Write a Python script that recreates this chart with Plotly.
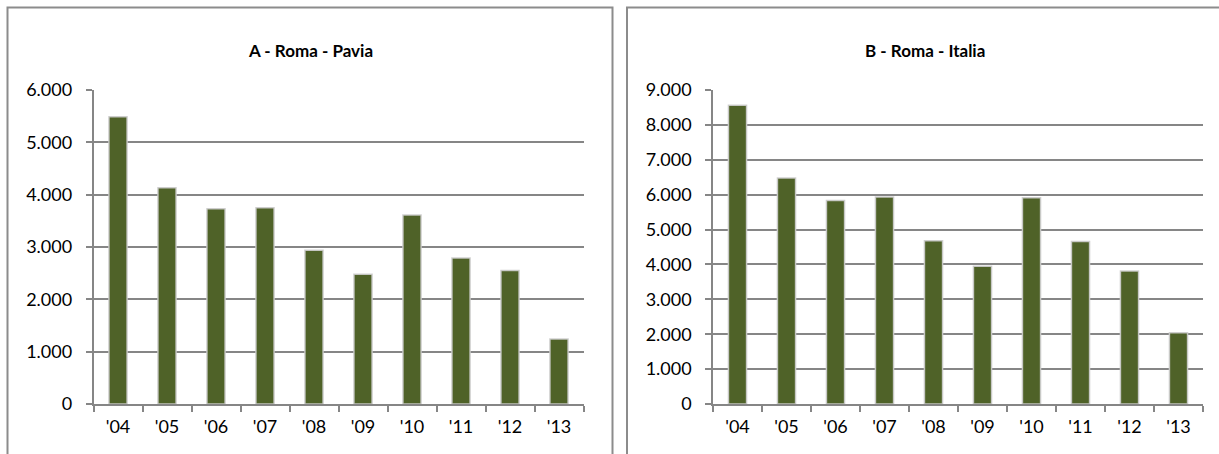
import plotly.graph_objects as go

W, H = 1219, 454

years = ["'04", "'05", "'06", "'07", "'08", "'09", "'10", "'11", "'12", "'13"]
roma_pavia = [5490, 4130, 3730, 3750, 2940, 2480, 3610, 2790, 2550, 1240]
roma_italia = [8560, 6480, 5830, 5930, 4680, 3950, 5910, 4660, 3810, 2040]

title_a = "A - Roma - Pavia"
title_b = "B - Roma - Italia"

BAR = "#4F6228"
GRID = "#868686"
FONT = "Lato"

def px(x):
    return x / W

def py(y):
    return (H - y) / H

fig = go.Figure()
fig.add_trace(go.Bar(x=years, y=roma_pavia, xaxis="x", yaxis="y", width=0.37,
                     marker=dict(color=BAR, line=dict(color="rgba(205,205,205,0.9)", width=1.5)),
                     showlegend=False))
fig.add_trace(go.Bar(x=years, y=roma_italia, xaxis="x2", yaxis="y2", width=0.37,
                     marker=dict(color=BAR, line=dict(color="rgba(205,205,205,0.9)", width=1.5)),
                     showlegend=False))

xcommon = dict(type="category", showgrid=False, showline=True, linecolor=GRID, linewidth=1.5,
               ticks="outside", tickson="boundaries", ticklen=6, tickcolor=GRID, tickwidth=1.5,
               ticklabelstandoff=6, automargin=False,
               tickfont=dict(family=FONT, size=18, color="#000000"), fixedrange=True)
ycommon = dict(showgrid=True, gridcolor=GRID, gridwidth=1.5, showline=True, linecolor=GRID,
               linewidth=1.5, ticks="outside", ticklen=6, tickcolor=GRID, tickwidth=1.5,
               dtick=1000, tickformat=",d", zeroline=False, automargin=False,
               ticklabelstandoff=10,
               tickfont=dict(family=FONT, size=18, color="#000000"), fixedrange=True)

fig.update_layout(
    width=W, height=H,
    margin=dict(l=0, r=0, t=0, b=0),
    paper_bgcolor="white", plot_bgcolor="white",
    separators=",.",
    barmode="overlay",
    xaxis=dict(domain=[px(93.5), px(583.5)], anchor="y", **xcommon),
    yaxis=dict(domain=[py(404), py(90)], anchor="x", range=[0, 6000], **ycommon),
    xaxis2=dict(domain=[px(713), px(1203)], anchor="y2", **xcommon),
    yaxis2=dict(domain=[py(404), py(90)], anchor="x2", range=[0, 9000], **ycommon),
    shapes=[
        dict(type="rect", xref="paper", yref="paper", x0=px(7.5), x1=px(612.5), y0=py(470), y1=py(7.5),
             line=dict(color="#8c8c8c", width=2), fillcolor="rgba(0,0,0,0)", layer="below"),
        dict(type="rect", xref="paper", yref="paper", x0=px(627), x1=px(1240), y0=py(470), y1=py(7.5),
             line=dict(color="#8c8c8c", width=2), fillcolor="rgba(0,0,0,0)", layer="below"),
    ],
    annotations=[
        dict(text="<b>%s</b>" % title_a, xref="paper", yref="paper", x=px(310), y=py(51),
             xanchor="center", yanchor="middle", showarrow=False,
             font=dict(family=FONT, size=17, color="#000000")),
        dict(text="<b>%s</b>" % title_b, xref="paper", yref="paper", x=px(925), y=py(51),
             xanchor="center", yanchor="middle", showarrow=False,
             font=dict(family=FONT, size=17, color="#000000")),
    ],
)

fig.write_html(
    "out.html",
    config={"displayModeBar": False},
    post_script="document.body.style.margin='0';document.body.style.overflow='hidden';",
)
